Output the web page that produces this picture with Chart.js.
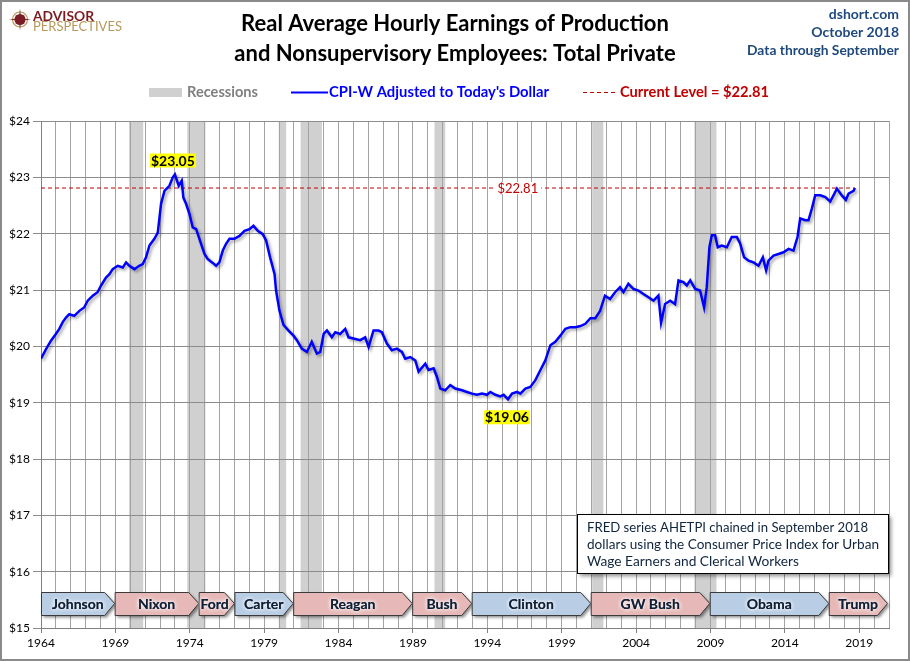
<!DOCTYPE html>
<html>
<head>
<meta charset="utf-8">
<title>Real Average Hourly Earnings of Production and Nonsupervisory Employees</title>
<script src="https://cdn.jsdelivr.net/npm/chart.js@4.4.0/dist/chart.umd.min.js"></script>
<style>
  html, body { margin: 0; padding: 0; background: #fff; }
  #wrap { width: 910px; height: 661px; }
</style>
</head>
<body>
<div id="wrap"><canvas id="earnings-chart" width="910" height="661"></canvas></div>
<script>
// Real average hourly earnings (September 2018 dollars)
const years = [
    1964.0, 1964.34, 1964.67, 1965.0, 1965.23, 1965.46, 1965.68, 1965.9, 1966.24, 1966.58,
    1966.9, 1967.14, 1967.48, 1967.8, 1968.04, 1968.37, 1968.6, 1968.82, 1969.16, 1969.5,
    1969.72, 1969.94, 1970.28, 1970.6, 1970.84, 1971.06, 1971.29, 1971.62, 1971.85, 1972.07,
    1972.3, 1972.63, 1972.86, 1973.0, 1973.26, 1973.46, 1973.57, 1973.75, 1973.98, 1974.2,
    1974.43, 1974.76, 1974.99, 1975.2, 1975.5, 1975.77, 1975.99, 1976.22, 1976.44, 1976.67,
    1977.0, 1977.34, 1977.68, 1978.01, 1978.28, 1978.57, 1978.91, 1979.13, 1979.4, 1979.7,
    1979.8, 1980.03, 1980.3, 1980.64, 1980.97, 1981.2, 1981.53, 1981.87, 1982.2, 1982.54,
    1982.77, 1983.0, 1983.22, 1983.55, 1983.78, 1984.11, 1984.45, 1984.67, 1985.0, 1985.46,
    1985.79, 1986.02, 1986.35, 1986.69, 1986.91, 1987.25, 1987.58, 1987.92, 1988.26, 1988.48,
    1988.82, 1989.16, 1989.38, 1989.83, 1990.05, 1990.39, 1990.61, 1990.84, 1991.17, 1991.51,
    1991.85, 1992.3, 1992.63, 1992.97, 1993.3, 1993.64, 1993.98, 1994.2, 1994.54, 1994.87,
    1995.1, 1995.39, 1995.66, 1996.0, 1996.22, 1996.56, 1996.89, 1997.23, 1997.57, 1997.9,
    1998.24, 1998.57, 1998.91, 1999.25, 1999.58, 1999.92, 2000.26, 2000.59, 2000.93, 2001.26,
    2001.58, 2001.91, 2002.25, 2002.59, 2002.92, 2003.15, 2003.48, 2003.82, 2004.16, 2004.49,
    2004.83, 2005.17, 2005.5, 2005.68, 2005.95, 2006.29, 2006.62, 2006.85, 2007.18, 2007.41,
    2007.64, 2007.97, 2008.3, 2008.57, 2008.75, 2008.93, 2009.09, 2009.31, 2009.49, 2009.76,
    2010.1, 2010.43, 2010.77, 2011.0, 2011.26, 2011.56, 2011.89, 2012.23, 2012.52, 2012.74,
    2012.9, 2013.24, 2013.57, 2013.91, 2014.25, 2014.58, 2014.85, 2015.03, 2015.37, 2015.59,
    2015.82, 2016.04, 2016.38, 2016.72, 2017.05, 2017.27, 2017.5, 2017.83, 2018.1, 2018.28,
    2018.62, 2018.71
];
const earnings = [
    19.78, 19.95, 20.10, 20.22, 20.31, 20.43, 20.51, 20.57, 20.54, 20.63,
    20.69, 20.81, 20.90, 20.96, 21.08, 21.22, 21.28, 21.37, 21.43, 21.40,
    21.49, 21.43, 21.37, 21.43, 21.46, 21.58, 21.79, 21.91, 22.02, 22.53,
    22.76, 22.85, 23.00, 23.05, 22.85, 22.94, 22.64, 22.53, 22.35, 22.11,
    22.08, 21.82, 21.64, 21.55, 21.49, 21.43, 21.49, 21.70, 21.82, 21.91,
    21.91, 21.96, 22.05, 22.08, 22.14, 22.05, 21.99, 21.88, 21.58, 21.28,
    20.99, 20.63, 20.38, 20.28, 20.19, 20.11, 19.96, 19.90, 20.08, 19.87,
    19.90, 20.22, 20.28, 20.16, 20.25, 20.22, 20.31, 20.16, 20.14, 20.11,
    20.16, 19.99, 20.28, 20.28, 20.25, 20.05, 19.93, 19.96, 19.90, 19.78,
    19.81, 19.75, 19.55, 19.69, 19.58, 19.61, 19.46, 19.25, 19.22, 19.31,
    19.25, 19.22, 19.19, 19.16, 19.14, 19.16, 19.14, 19.19, 19.14, 19.11,
    19.14, 19.06, 19.16, 19.19, 19.16, 19.25, 19.28, 19.40, 19.58, 19.75,
    20.02, 20.08, 20.19, 20.31, 20.34, 20.34, 20.36, 20.40, 20.50, 20.50,
    20.63, 20.90, 20.84, 20.96, 21.05, 20.96, 21.11, 21.02, 20.99, 20.93,
    20.87, 20.81, 20.90, 20.42, 20.75, 20.81, 20.75, 21.17, 21.14, 21.08,
    21.17, 21.02, 20.99, 20.69, 21.05, 21.76, 21.97, 21.97, 21.76, 21.79,
    21.76, 21.94, 21.94, 21.82, 21.58, 21.52, 21.49, 21.43, 21.58, 21.35,
    21.52, 21.61, 21.64, 21.67, 21.73, 21.70, 21.94, 22.27, 22.24, 22.24,
    22.45, 22.68, 22.68, 22.65, 22.57, 22.68, 22.80, 22.68, 22.60, 22.71,
    22.76, 22.81
];

// Current level line and the two marked extremes
const currentLevel = 22.81;
const peakYear = 1973.0, peakValue = 23.05;
const lowYear = 1995.39, lowValue = 19.06;

// Recessions (start / end as decimal years)
const recessionStart = [1969.92, 1973.83, 1979.98, 1981.45, 1990.45, 2001.05, 2007.92];
const recessionEnd   = [1970.87, 1975.05, 1980.48, 1982.88, 1991.17, 2001.80, 2009.40];

// Presidential terms
const presidents = ['Johnson', 'Nixon', 'Ford', 'Carter', 'Reagan', 'Bush', 'Clinton', 'GW Bush', 'Obama', 'Trump'];
const termStart  = [1964.0, 1968.95, 1974.6, 1977.0, 1980.95, 1988.95, 1992.95, 2000.95, 2008.95, 2016.95];
const termEnd    = [1968.95, 1974.6, 1977.0, 1980.95, 1988.95, 1992.95, 2000.95, 2008.95, 2016.95, 2020.9];
const parties    = ['D', 'R', 'R', 'D', 'R', 'R', 'D', 'R', 'D', 'R'];

// Axis ranges and tick labels
const xMin = 1964, xMax = 2021;
const yMin = 15, yMax = 24;
const labelEvery = 5;

const FONT = 'Lato, "Open Sans", sans-serif';
Chart.defaults.font.family = FONT;

const lineData = years.map((yr, i) => ({ x: yr, y: earnings[i] }));
const levelData = [{ x: xMin, y: currentLevel }, { x: years[years.length - 1], y: currentLevel }];

function isLabelled(v) {
    return (Math.round(v) - xMin) % labelEvery === 0;
}

// Yellow highlighted value label
function highlight(ctx, text, cx, cy) {
    ctx.font = 'bold 14px ' + FONT;
    const w = ctx.measureText(text).width;
    ctx.fillStyle = '#ffff00';
    ctx.fillRect(cx - w / 2 - 1, cy - 7, w + 2, 14);
    ctx.fillStyle = '#000';
    ctx.textAlign = 'center';
    ctx.textBaseline = 'middle';
    ctx.fillText(text, cx, cy + 0.5);
}

const decorations = {
    id: 'decorations',
    beforeDraw(chart) {
        const { ctx, chartArea: a, scales: { x } } = chart;
        ctx.save();
        ctx.fillStyle = '#fff';
        ctx.fillRect(0, 0, chart.width, chart.height);
        // recession shading, under the grid
        ctx.fillStyle = '#d0d0d0';
        recessionStart.forEach((s, i) => {
            const x0 = x.getPixelForValue(s);
            const x1 = x.getPixelForValue(recessionEnd[i]);
            ctx.fillRect(x0, a.top, x1 - x0, a.bottom - a.top);
        });
        ctx.restore();
    },
    beforeDatasetDraw(chart, args) {
        if (args.index !== 0) return;
        const ctx = chart.ctx;
        ctx.save();
        ctx.shadowColor = 'rgba(0,0,0,0.35)';
        ctx.shadowBlur = 3;
        ctx.shadowOffsetX = 2;
        ctx.shadowOffsetY = 2;
    },
    afterDatasetDraw(chart, args) {
        if (args.index === 0) chart.ctx.restore();
    },
    afterDraw(chart) {
        const { ctx, chartArea: a, scales: { x, y } } = chart;
        ctx.save();

        // current level value on the dashed line
        ctx.font = '13px ' + FONT;
        const lvlText = '$' + currentLevel.toFixed(2);
        const lx = x.getPixelForValue(1996.05), ly = y.getPixelForValue(currentLevel);
        const lw = ctx.measureText(lvlText).width;
        ctx.fillStyle = '#fff';
        ctx.fillRect(lx - lw / 2 - 3, ly - 6, lw + 6, 12);
        ctx.fillStyle = '#c00000';
        ctx.textAlign = 'center';
        ctx.textBaseline = 'middle';
        ctx.fillText(lvlText, lx, ly + 0.5);

        // peak and trough labels
        highlight(ctx, '$' + peakValue.toFixed(2), x.getPixelForValue(peakYear) - 2, y.getPixelForValue(peakValue) - 14);
        highlight(ctx, '$' + lowValue.toFixed(2), x.getPixelForValue(lowYear) - 1, y.getPixelForValue(lowValue) + 18);

        // president arrows
        const top = a.bottom - 36, bot = a.bottom - 13, mid = (top + bot) / 2;
        presidents.forEach((name, i) => {
            const x0 = x.getPixelForValue(termStart[i]);
            const x1 = x.getPixelForValue(termEnd[i]);
            ctx.save();
            ctx.shadowColor = 'rgba(0,0,0,0.45)';
            ctx.shadowBlur = 3;
            ctx.shadowOffsetX = 2;
            ctx.shadowOffsetY = 2;
            ctx.beginPath();
            ctx.moveTo(x0 + 0.5, top + 0.5);
            ctx.lineTo(x1 - 10, top + 0.5);
            ctx.lineTo(x1, mid);
            ctx.lineTo(x1 - 10, bot + 0.5);
            ctx.lineTo(x0 + 0.5, bot + 0.5);
            ctx.closePath();
            ctx.fillStyle = parties[i] === 'D' ? '#b9cde5' : '#e6b9b8';
            ctx.fill();
            ctx.restore();
            ctx.strokeStyle = '#3a3a3a';
            ctx.lineWidth = 1;
            ctx.stroke();

            ctx.save();
            ctx.font = 'bold 14px ' + FONT;
            ctx.textAlign = 'center';
            ctx.textBaseline = 'middle';
            ctx.shadowColor = '#ffffff';
            ctx.shadowBlur = 4;
            ctx.fillStyle = '#0f1f35';
            const cx = (x0 + x1) / 2 + (name === 'Ford' ? -2 : 0);
            ctx.fillText(name, cx, mid + 0.5, x1 - x0 - 4);
            ctx.fillText(name, cx, mid + 0.5, x1 - x0 - 4);
            ctx.restore();
        });

        // source note box
        const bx = a.right - 312, by = a.top + 393, bw = 311, bh = 59;
        ctx.save();
        ctx.shadowColor = 'rgba(0,0,0,0.45)';
        ctx.shadowBlur = 4;
        ctx.shadowOffsetX = 3;
        ctx.shadowOffsetY = 3;
        ctx.fillStyle = '#fff';
        ctx.fillRect(bx, by, bw, bh);
        ctx.restore();
        ctx.strokeStyle = '#000';
        ctx.lineWidth = 1;
        ctx.strokeRect(bx + 0.5, by + 0.5, bw, bh);
        ctx.font = '14px ' + FONT;
        ctx.fillStyle = '#0f243e';
        ctx.textAlign = 'left';
        ctx.textBaseline = 'alphabetic';
        ctx.fillText('FRED series AHETPI chained in September 2018', bx + 10, by + 18, 281);
        ctx.fillText('dollars using the Consumer Price Index for Urban', bx + 10, by + 35, 292);
        ctx.fillText('Wage Earners and Clerical Workers', bx + 10, by + 52, 212);

        // titles
        ctx.fillStyle = '#000';
        ctx.textAlign = 'center';
        ctx.font = 'bold 22px ' + FONT;
        ctx.fillText('Real Average Hourly Earnings of Production', 455, 31, 432);
        ctx.fillText('and Nonsupervisory Employees: Total Private', 455, 61, 450);

        // top right notes
        ctx.textAlign = 'right';
        ctx.fillStyle = '#1f497d';
        ctx.font = 'bold 14px ' + FONT;
        ctx.fillText('dshort.com', 899, 19, 74);
        ctx.fillText('October 2018', 899, 37, 88);
        ctx.fillText('Data through September', 899, 55, 152);

        // legend
        ctx.textAlign = 'left';
        ctx.fillStyle = '#d0d0d0';
        ctx.fillRect(149, 88, 33, 9);
        ctx.font = 'bold 15px ' + FONT;
        ctx.fillStyle = '#808080';
        ctx.fillText('Recessions', 187, 97, 71);
        ctx.strokeStyle = '#0000ff';
        ctx.lineWidth = 2;
        ctx.beginPath();
        ctx.moveTo(291, 92.5);
        ctx.lineTo(328, 92.5);
        ctx.stroke();
        ctx.fillStyle = '#0000ff';
        ctx.fillText('CPI-W Adjusted to Today\'s Dollar', 329, 97, 220);
        ctx.strokeStyle = '#c00000';
        ctx.lineWidth = 1;
        ctx.setLineDash([4, 3]);
        ctx.beginPath();
        ctx.moveTo(583, 92.5);
        ctx.lineTo(616, 92.5);
        ctx.stroke();
        ctx.setLineDash([]);
        ctx.fillStyle = '#c00000';
        ctx.fillText('Current Level = $22.81', 620, 97, 149);

        // logo
        ctx.save();
        ctx.translate(20, 19.5);
        ctx.strokeStyle = '#b8975a';
        ctx.lineWidth = 1.2;
        ctx.beginPath();
        ctx.arc(0, 0, 7.5, 0, Math.PI * 2);
        ctx.stroke();
        ctx.fillStyle = '#7b1c24';
        ctx.beginPath();
        ctx.arc(0, 0, 5.5, 0, Math.PI * 2);
        ctx.fill();
        ctx.beginPath();
        for (let k = 0; k < 16; k++) {
            const ang = k * Math.PI / 8 - Math.PI / 2;
            const r = k % 4 === 0 ? 11 : (k % 2 === 0 ? 7 : 2.5);
            ctx.lineTo(r * Math.cos(ang), r * Math.sin(ang));
        }
        ctx.closePath();
        ctx.fill();
        ctx.restore();
        ctx.textAlign = 'left';
        ctx.font = 'bold 14px ' + FONT;
        ctx.fillStyle = '#7b1c24';
        ctx.fillText('ADVISOR', 33, 21, 61);
        ctx.font = '13px ' + FONT;
        ctx.fillStyle = '#b8975a';
        ctx.fillText('PERSPECTIVES', 33, 31, 95);

        // outer frame
        ctx.strokeStyle = '#8a8a8a';
        ctx.lineWidth = 2;
        ctx.strokeRect(1, 1, chart.width - 2, chart.height - 2);
        ctx.restore();
    }
};

const ctx = document.getElementById('earnings-chart').getContext('2d');
const myChart = new Chart(ctx, {
    type: 'line',
    data: {
        datasets: [{
            label: 'CPI-W Adjusted to Today\'s Dollar',
            data: lineData,
            borderColor: '#0000ff',
            borderWidth: 2.5,
            pointRadius: 0,
            tension: 0
        }, {
            label: 'Current Level = $22.81',
            data: levelData,
            borderColor: '#c00000',
            borderWidth: 1,
            borderDash: [4, 3],
            pointRadius: 0
        }]
    },
    options: {
        responsive: false,
        animation: false,
        devicePixelRatio: 1,
        layout: { padding: { left: 0, top: 121, right: 21, bottom: 0 } },
        plugins: {
            legend: { display: false },
            tooltip: { enabled: false }
        },
        scales: {
            x: {
                type: 'linear',
                min: xMin,
                max: xMax,
                afterFit: s => { s.height = 33; },
                ticks: {
                    stepSize: 1,
                    autoSkip: false,
                    maxRotation: 0,
                    padding: 3,
                    color: '#000',
                    font: { size: 12 },
                    callback: v => isLabelled(v) ? String(v) : ''
                },
                grid: {
                    color: '#a3a3a3',
                    tickLength: 5,
                    tickColor: c => (c.tick && isLabelled(c.tick.value)) ? '#808080' : 'rgba(0,0,0,0)'
                },
                border: { color: '#808080' }
            },
            y: {
                min: yMin,
                max: yMax,
                afterFit: s => { s.width = 41; },
                ticks: {
                    stepSize: 1,
                    padding: 3,
                    color: '#000',
                    font: { size: 12 },
                    callback: v => '$' + v
                },
                grid: { color: '#8c8c8c', tickLength: 8 },
                border: { color: '#808080' }
            }
        }
    },
    plugins: [decorations]
});
</script>
</body>
</html>
